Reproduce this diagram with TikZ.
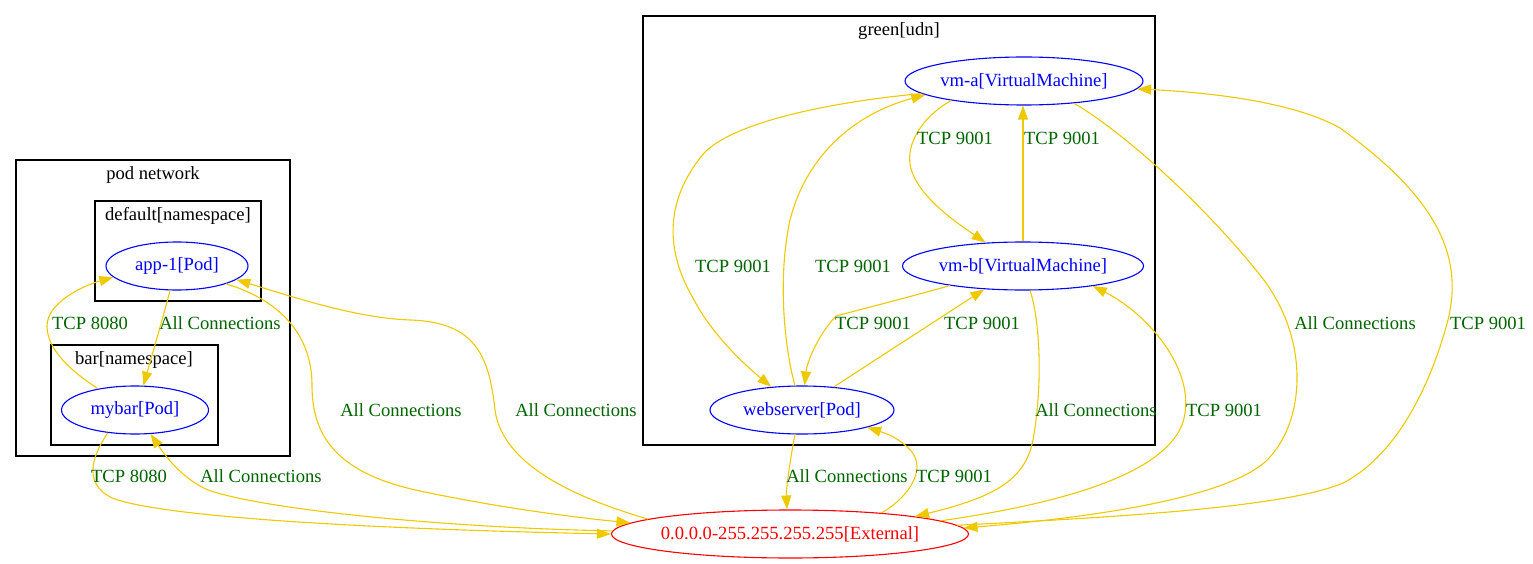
\documentclass[tikz,border=0pt]{standalone}
\usepackage{fontspec}
\setmainfont{Liberation Serif}
\usetikzlibrary{arrows.meta,shapes.geometric}
\definecolor{edgegold}{HTML}{EEC900}
\definecolor{lblgreen}{HTML}{006400}
% zero-width box so the ellipse size comes from minimum width/height only
\newcommand{\centred}[1]{\makebox[0pt]{#1}}

\begin{document}
\begin{tikzpicture}[x=1pt,y=-1pt,
  font=\fontsize{18.6}{22}\selectfont,
  cluster/.style={draw=black,line width=1.1pt},
  clab/.style={text=black,inner sep=0pt},
  vertex/.style={ellipse,draw=blue,text=blue,line width=1.1pt,inner sep=0pt,minimum height=48pt},
  extnode/.style={vertex,draw=red,text=red},
  conn/.style={draw=edgegold,line width=1.1pt,-{Triangle[length=14pt,width=10pt]}},
  elab/.style={text=lblgreen,inner sep=0pt}]
\useasboundingbox (0,0) rectangle (1533,564);

% clusters
\draw[cluster] (16,160) rectangle (290,456);
\node[clab] (cpod) at (153,175) {pod network};
\draw[cluster] (95,201) rectangle (261,301);
\node[clab] (cdef) at (178,216) {default[namespace]};
\draw[cluster] (51,345) rectangle (218,445);
\node[clab] (cbar) at (134,360) {bar[namespace]};
\draw[cluster] (643,16) rectangle (1155,445);
\node[clab] (cgreen) at (899,31) {green[udn]};

% workloads
\node[vertex,minimum width=142pt] (app1) at (177,266) {\centred{app-1[Pod]}};
\node[vertex,minimum width=147pt] (mybar) at (135,410) {\centred{mybar[Pod]}};
\node[vertex,minimum width=238pt] (vma) at (1024,81) {\centred{vm-a[VirtualMachine]}};
\node[vertex,minimum width=241pt] (vmb) at (1023,266) {\centred{vm-b[VirtualMachine]}};
\node[vertex,minimum width=184pt] (ws) at (802,410) {\centred{webserver[Pod]}};
\node[extnode,minimum width=357pt] (ext) at (790,534) {\centred{0.0.0.0-255.255.255.255[External]}};

% pod network connections
\draw[conn] (mybar.150) .. controls (72,372) and (47,350) .. (47,326)
  .. controls (47,303) and (82,286) .. (app1.190);
\node[elab] (l1) at (90,323) {TCP 8080};
\draw[conn] (app1.254) .. controls (163,318) and (152,355) .. (mybar.71);
\node[elab] (l2) at (220,323) {All Connections};
\draw[conn] (mybar.220) .. controls (95,452) and (80,482) .. (112,498)
  .. controls (170,520) and (420,530) .. (ext.180);
\node[elab] (l3) at (129,476) {TCP 8080};
\draw[conn] (ext.179) .. controls (450,528) and (265,510) .. (208,490)
  .. controls (185,480) and (168,460) .. (mybar.303);
\node[elab] (l4) at (261,476) {All Connections};
\draw[conn] (app1.340) .. controls (280,300) and (312,335) .. (312,385)
  .. controls (312,430) and (330,472) .. (420,491)
  .. controls (500,508) and (580,518) .. (ext.176);
\node[elab] (l5) at (401,410) {All Connections};
\draw[conn] (ext.174) .. controls (590,502) and (503,470) .. (495,410)
  .. controls (489,355) and (475,322) .. (410,320)
  .. controls (355,318) and (290,296) .. (app1.347);
\node[elab] (l6) at (576,410) {All Connections};

% green[udn] to the outside
\draw[conn] (ws.254) .. controls (790,460) and (786,490) .. (ext.97);
\node[elab] (l7) at (847,476) {All Connections};
\draw[conn] (ext.13) .. controls (905,500) and (927,472) .. (912,452)
  .. controls (900,438) and (885,433) .. (ws.345);
\node[elab] (l8) at (954,476) {TCP 9001};
\draw[conn] (vmb.286) .. controls (1040,320) and (1043,385) .. (1033,440)
  .. controls (1025,480) and (995,497) .. (ext.8);
\node[elab] (l9) at (1096,410) {All Connections};
\draw[conn] (ext.5) .. controls (1050,505) and (1160,478) .. (1182,425)
  .. controls (1200,375) and (1150,315) .. (vmb.344);
\node[elab] (l10) at (1224,410) {TCP 9001};
\draw[conn] (vma.336) .. controls (1120,130) and (1200,200) .. (1260,275)
  .. controls (1312,340) and (1305,425) .. (1265,462)
  .. controls (1225,497) and (1100,517) .. (ext.2);
\node[elab] (l11) at (1355,323) {All Connections};
\draw[conn] (ext.3) .. controls (1100,518) and (1290,508) .. (1345,482)
  .. controls (1400,452) and (1432,380) .. (1448,320)
  .. controls (1463,258) and (1440,200) .. (1340,128)
  .. controls (1290,100) and (1200,92) .. (vma.356);
\node[elab] (l12) at (1488,323) {TCP 9001};

% inside green[udn]
\draw[conn] (vma.195) .. controls (920,118) and (903,148) .. (912,172)
  .. controls (922,200) and (960,225) .. (vmb.148);
\node[elab] (l13) at (955,138) {TCP 9001};
\draw[conn] (vmb.north) -- (vmb.north |- vma.south);
\node[elab] (l14) at (1062,138) {TCP 9001};
\draw[conn] (vma.187) .. controls (850,100) and (740,118) .. (705,152)
  .. controls (668,195) and (662,245) .. (693,298)
  .. controls (712,335) and (745,365) .. (ws.143);
\node[elab] (l15) at (733,266) {TCP 9001};
\draw[conn] (ws.106) .. controls (785,350) and (777,280) .. (790,220)
  .. controls (805,160) and (850,115) .. (vma.188);
\node[elab] (l16) at (853,266) {TCP 9001};
\draw[conn] (vmb.195) .. controls (913,296) and (874,306) .. (836,316)
  .. controls (818,335) and (807,362) .. (ws.84);
\node[elab] (l17) at (873,323) {TCP 9001};
\draw[conn] (ws.36) -- (vmb.211);
\node[elab] (l18) at (982,323) {TCP 9001};
\end{tikzpicture}
\end{document}
